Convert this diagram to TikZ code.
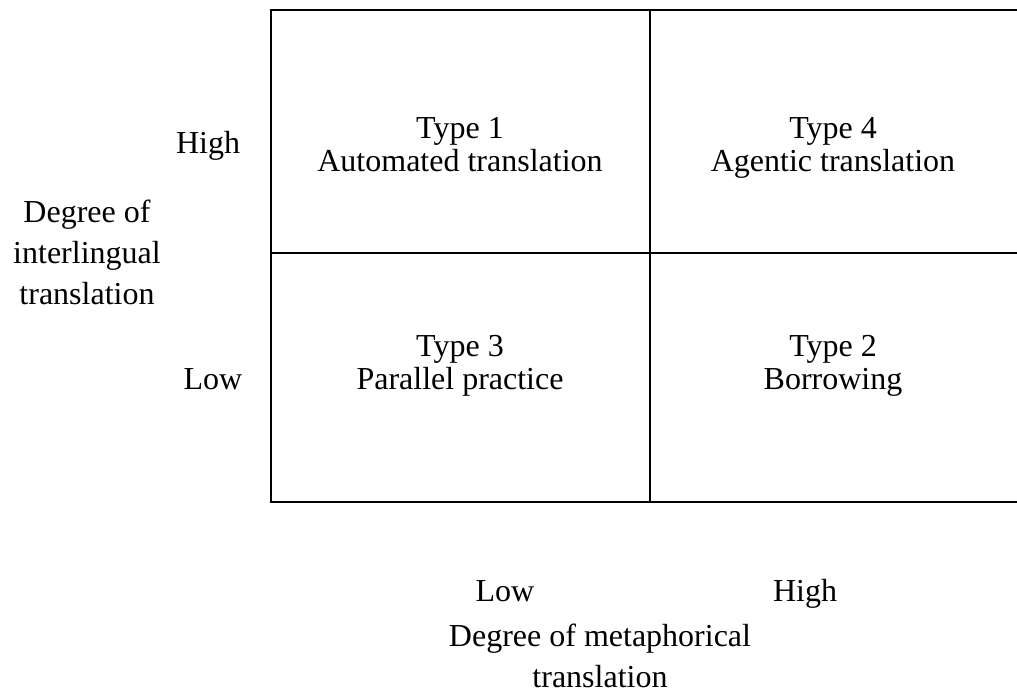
\documentclass[tikz,border=0pt]{standalone}
\usepackage{fontspec}
\setmainfont{Liberation Serif}
\begin{document}
\begin{tikzpicture}[x=0.5pt,y=-0.5pt,
  lbl/.style={inner sep=0pt, align=center, anchor=base, font=\fontsize{16}{20.5}\selectfont},
  cell/.style={inner sep=0pt, align=center, anchor=base, font=\fontsize{16}{16.5}\selectfont},
  gridline/.style={line width=1pt, line cap=rect}]
\useasboundingbox (0,0) rectangle (1017,697);
\coordinate (tl) at (271,10);
\coordinate (tm) at (650,10);
\coordinate (tr) at (1017,10);
\coordinate (ml) at (271,253);
\coordinate (mr) at (1017,253);
\coordinate (bl) at (271,502);
\coordinate (bm) at (650,502);
\coordinate (br) at (1017,502);
\draw[gridline] (tr) -- (tl) -- (bl) -- (br);
\draw[gridline] (ml) -- (mr);
\draw[gridline] (tm) -- (bm);
\node[cell] (t1) at (460,171) {Type 1\\Automated translation};
\node[cell] (t4) at (833,171) {Type 4\\Agentic translation};
\node[cell] (t3) at (460,389) {Type 3\\Parallel practice};
\node[cell] (t2) at (833,389) {Type 2\\Borrowing};
\node[lbl] (yhigh) at (208,153) {High};
\node[lbl] (ylow) at (213,389) {Low};
\node[lbl] (ytitle) at (87,304) {Degree of\\interlingual\\translation};
\node[lbl] (xlow) at (505,601) {Low};
\node[lbl] (xhigh) at (805,601) {High};
\node[lbl] (xtitle) at (600,687) {Degree of metaphorical\\translation};
\end{tikzpicture}
\end{document}
